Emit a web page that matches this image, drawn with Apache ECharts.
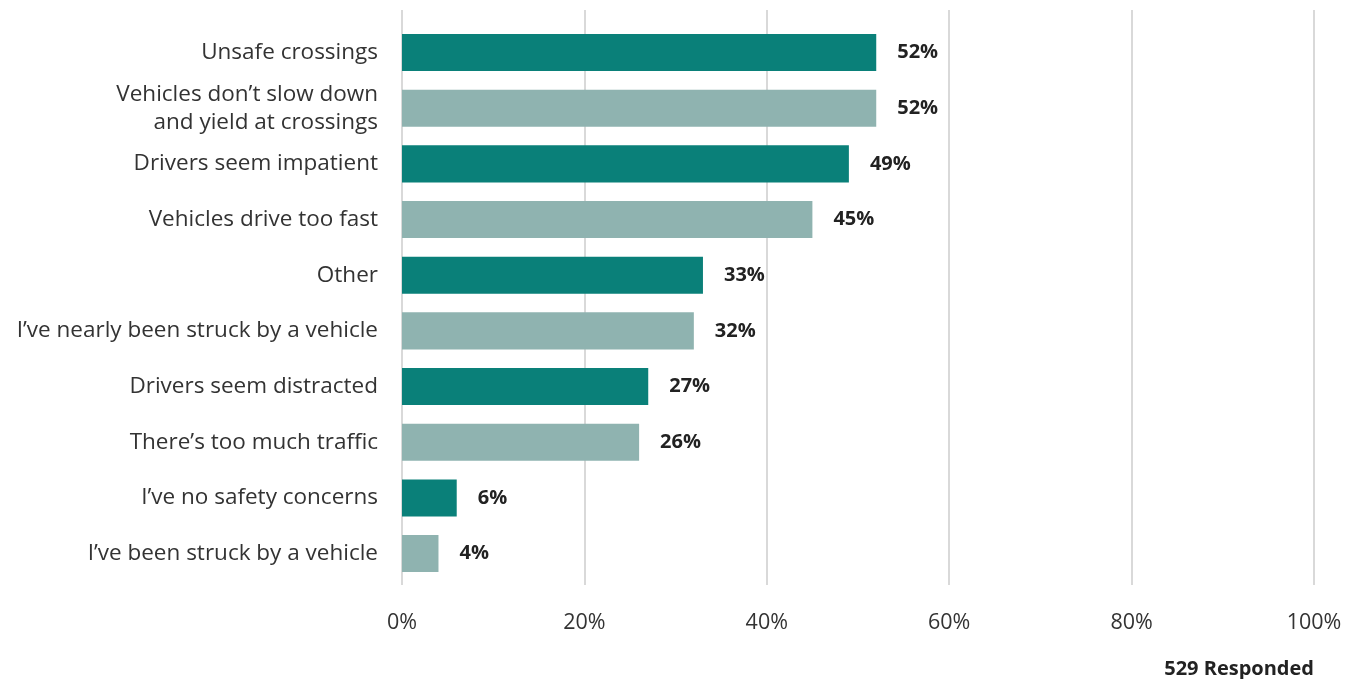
<!DOCTYPE html>
<html>
<head>
<meta charset="utf-8">
<script src="https://cdn.jsdelivr.net/npm/echarts@6/dist/echarts.min.js"></script>
<style>
  html, body { margin: 0; padding: 0; background: #ffffff; }
  #chart { width: 1358px; height: 679px; }
</style>
</head>
<body>
<div id="chart"></div>
<script>
// Safety concerns reported by respondents (percent of respondents)
const categories = [
  'Unsafe crossings',
  'Vehicles don\u2019t slow down\nand yield at crossings',
  'Drivers seem impatient',
  'Vehicles drive too fast',
  'Other',
  'I\u2019ve nearly been struck by a vehicle',
  'Drivers seem distracted',
  'There\u2019s too much traffic',
  'I\u2019ve no safety concerns',
  'I\u2019ve been struck by a vehicle'
];
const percents = [52, 52, 49, 45, 33, 32, 27, 26, 6, 4];
const tickValues = [0, 20, 40, 60, 80, 100];
const footnote = '529 Responded';

const darkTeal = '#0a8079';
const lightTeal = '#8fb3b0';
const FONT = '"Open Sans", Lato, sans-serif';

const chart = echarts.init(document.getElementById('chart'), null, { renderer: 'canvas' });

chart.setOption({
  animation: false,
  backgroundColor: '#ffffff',
  grid: [
    { left: 402, right: 44, top: 24.7, height: 556.7 },   // bars
    { left: 402, right: 44, top: 10, height: 575 }         // gridlines + tick labels
  ],
  xAxis: [
    { type: 'value', gridIndex: 0, min: 0, max: 100, show: false },
    {
      type: 'value', gridIndex: 1, min: 0, max: 100, interval: 20,
      axisLine: { show: false },
      axisTick: { show: false },
      splitLine: { show: true, lineStyle: { color: '#cccccc', width: 1.5 } },
      axisLabel: {
        margin: 27,
        formatter: v => tickValues.includes(v) ? v + '%' : '',
        fontFamily: FONT, fontSize: 21.5, color: '#333333'
      }
    }
  ],
  yAxis: [
    {
      type: 'category', gridIndex: 0, data: categories, inverse: true,
      axisLine: { show: false },
      axisTick: { show: false },
      splitLine: { show: false },
      axisLabel: {
        margin: 24, fontFamily: FONT, fontSize: 22.5, color: '#333333',
        lineHeight: 28, align: 'right'
      }
    },
    { type: 'value', gridIndex: 1, show: false, min: 0, max: 1 }
  ],
  series: [
    {
      type: 'bar',
      xAxisIndex: 0, yAxisIndex: 0,
      data: percents,
      barCategoryGap: '33.5%',
      itemStyle: { color: p => (p.dataIndex % 2 === 0 ? darkTeal : lightTeal) },
      label: {
        show: true, position: 'right', distance: 21,
        formatter: p => p.value + '%',
        fontFamily: FONT, fontSize: 20, fontWeight: 'bold', color: '#222222'
      }
    }
  ],
  graphic: [
    {
      type: 'text', right: 44, top: 659,
      style: {
        text: footnote, fontFamily: FONT, fontSize: 20, fontWeight: 'bold',
        fill: '#222222', textAlign: 'right'
      }
    }
  ]
});
</script>
</body>
</html>
